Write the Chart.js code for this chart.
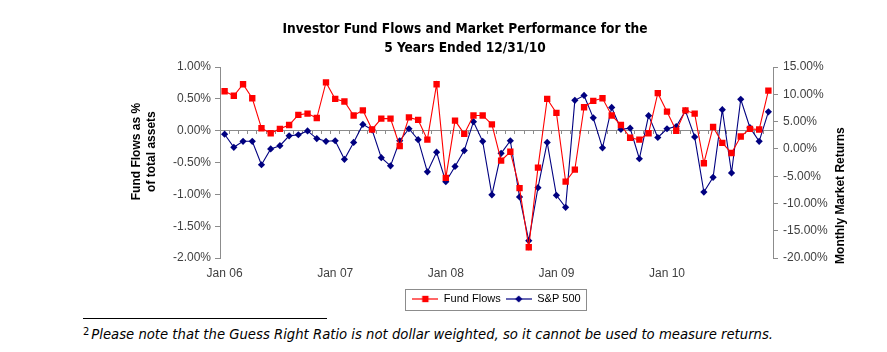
<!DOCTYPE html>
<html>
<head>
<meta charset="utf-8">
<script src="https://cdn.jsdelivr.net/npm/chart.js@4.4.1/dist/chart.umd.min.js"></script>
<style>
  body { margin: 0; background: #fff; }
  #wrap { position: relative; width: 887px; height: 352px; }
  #box { position: absolute; left: 0; top: 0; width: 887px; height: 318px; }
  #rule { position: absolute; left: 83px; top: 318px; width: 244px; border-top: 1px solid #000; }
  #note { position: absolute; left: 83px; top: 325px; font: italic 14.7px "DejaVu Sans Condensed", sans-serif; white-space: nowrap; color: #000; }
  #note sup { font-style: normal; font-size: 11px; vertical-align: 4px; margin-right: 2px; }
</style>
</head>
<body>
<div id="wrap">
  <div id="box"><canvas id="grafica"></canvas></div>
  <div id="rule"></div>
  <div id="note"><sup>2</sup>Please note that the Guess Right Ratio is not dollar weighted, so it cannot be used to measure returns.</div>
</div>
<script>
// Categorías: meses de ene-06 a dic-10
const years = ['06', '07', '08', '09', '10'];
const monthNames = ['Jan', 'Feb', 'Mar', 'Apr', 'May', 'Jun', 'Jul', 'Aug', 'Sep', 'Oct', 'Nov', 'Dec'];
const categories = years.flatMap(y => monthNames.map(m => m + ' ' + y));

// Flujos de fondos, % de activos totales (eje izquierdo)
const fundFlows = [
  0.62, 0.55, 0.73, 0.51, 0.04, -0.04, 0.03, 0.09, 0.25, 0.27, 0.20, 0.76,
  0.50, 0.46, 0.24, 0.32, 0.02, 0.19, 0.19, -0.24, 0.21, 0.17, -0.14, 0.73,
  -0.74, 0.16, -0.05, 0.24, 0.24, 0.10, -0.47, -0.33, -0.90, -1.83, -0.58, 0.50,
  0.28, -0.80, -0.61, 0.37, 0.47, 0.51, 0.24, 0.09, -0.11, -0.14, -0.04, 0.59,
  0.30, 0.00, 0.32, 0.27, -0.51, 0.06, -0.19, -0.35, -0.09, 0.03, 0.02, 0.63
];

// Rendimiento mensual S&P 500, % (eje derecho)
const sp500 = [
  2.7, 0.3, 1.4, 1.4, -2.9, 0.0, 0.6, 2.4, 2.6, 3.3, 1.9, 1.4,
  1.5, -1.9, 1.2, 4.5, 3.5, -1.6, -3.1, 1.5, 3.7, 1.7, -4.2, -0.6,
  -6.0, -3.2, -0.3, 5.0, 1.4, -8.4, -0.8, 1.5, -8.8, -16.8, -7.1, 1.2,
  -8.5, -10.7, 8.9, 9.8, 5.7, 0.2, 7.6, 3.6, 3.8, -1.8, 6.1, 2.1,
  3.7, 4.1, 7.0, 2.2, -7.9, -5.2, 7.2, -4.4, 9.1, 3.9, 1.4, 6.8
];

// Marcas de los ejes
const leftTicks = [-2.0, -1.5, -1.0, -0.5, 0.0, 0.5, 1.0];
const rightTicks = [-20, -15, -10, -5, 0, 5, 10, 15];

const tickFont = { family: 'Liberation Sans', size: 12 };
const tickColor = '#404040';
const axisColor = '#8c8c8c';

// Símbolo de leyenda: línea con el marcador encima
function legendMark(color, style, radius) {
  const c = document.createElement('canvas');
  c.width = 26;
  c.height = 10;
  const g = c.getContext('2d');
  g.strokeStyle = color;
  g.lineWidth = 1.2;
  g.beginPath();
  g.moveTo(0, 5);
  g.lineTo(26, 5);
  g.stroke();
  g.fillStyle = color;
  Chart.helpers.drawPoint(g, { pointStyle: style, radius: radius, borderWidth: 0 }, 13, 5);
  return c;
}
const marks = [legendMark('#ff0000', 'rect', 4.5), legendMark('#000080', 'rectRot', 3.6)];

// Marco de la leyenda
const legendFrame = {
  id: 'legendFrame',
  afterDraw(chart) {
    const boxes = chart.legend.legendHitBoxes;
    if (!boxes || !boxes.length) return;
    const a = boxes[0], b = boxes[boxes.length - 1];
    const x1 = Math.round(a.left - 7) + 0.5;
    const x2 = Math.round(b.left + b.width + 5) + 0.5;
    const y1 = Math.round(a.top - 5) + 0.5;
    const y2 = Math.round(a.top + a.height + 5) + 0.5;
    const ctx = chart.ctx;
    ctx.save();
    ctx.strokeStyle = '#8c8c8c';
    ctx.lineWidth = 1;
    ctx.strokeRect(x1, y1, x2 - x1, y2 - y1);
    ctx.restore();
  }
};

// Títulos de los ejes verticales, leídos de abajo hacia arriba
function verticalText(ctx, lines, x, y) {
  ctx.save();
  ctx.translate(x, y);
  ctx.rotate(-Math.PI / 2);
  ctx.font = 'bold 12px "Liberation Sans"';
  ctx.fillStyle = '#000';
  ctx.textAlign = 'center';
  ctx.textBaseline = 'middle';
  lines.forEach((t, i) => ctx.fillText(t, 0, i * 15));
  ctx.restore();
}
const axisTitles = {
  id: 'axisTitles',
  afterDraw(chart) {
    const l = chart.scales.y, r = chart.scales.y1;
    verticalText(chart.ctx, ['Fund Flows as %', 'of total assets'], l.right - 83, (l.top + l.bottom) / 2 - 11);
    verticalText(chart.ctx, ['Monthly Market Returns'], r.right - 46, (r.top + r.bottom) / 2 + 33);
  }
};

new Chart(document.querySelector('#grafica'), {
  type: 'line',
  data: {
    labels: categories,
    datasets: [
      {
        label: 'Fund Flows',
        data: fundFlows,
        yAxisID: 'y',
        borderColor: '#ff0000',
        backgroundColor: '#ff0000',
        borderWidth: 1.1,
        pointStyle: 'rect',
        pointRadius: 4.5,
        pointBorderWidth: 0,
        tension: 0
      },
      {
        label: 'S&P 500',
        data: sp500,
        yAxisID: 'y1',
        borderColor: '#000080',
        backgroundColor: '#000080',
        borderWidth: 1.1,
        pointStyle: 'rectRot',
        pointRadius: 3.6,
        pointBorderWidth: 0,
        tension: 0
      }
    ]
  },
  options: {
    responsive: true,
    maintainAspectRatio: false,
    animation: false,
    layout: { padding: { left: 43, right: 0, top: 0, bottom: 3.5 } },
    plugins: {
      title: {
        display: true,
        text: ['Investor Fund Flows and Market Performance for the', '5 Years Ended 12/31/10'],
        color: '#000',
        font: { family: 'DejaVu Sans Condensed', weight: 'bold', size: 13.6, lineHeight: 1.4 },
        padding: { top: 19.5, bottom: 9.5 }
      },
      legend: {
        position: 'bottom',
        fullSize: false,
        labels: {
          usePointStyle: true,
          pointStyleWidth: 26,
          color: '#000',
          font: { family: 'Liberation Sans', size: 11 },
          padding: 5,
          generateLabels: chart => Chart.defaults.plugins.legend.labels.generateLabels(chart)
            .map((l, i) => Object.assign(l, { pointStyle: marks[i] }))
        }
      },
      tooltip: { enabled: false }
    },
    scales: {
      x: {
        type: 'category',
        position: { y: 0 },
        offset: true,
        grid: { drawOnChartArea: false, offset: true, tickLength: 3, color: axisColor },
        border: { color: axisColor },
        ticks: { display: false }
      },
      x2: {
        type: 'category',
        position: 'bottom',
        offset: true,
        grid: { display: false, drawTicks: false },
        border: { display: false },
        ticks: {
          autoSkip: false,
          maxRotation: 0,
          padding: 8,
          font: tickFont,
          color: tickColor,
          callback: function (v) {
            const l = this.getLabelForValue(v);
            return l.startsWith('Jan') ? l : '';
          }
        }
      },
      y: {
        position: 'left',
        min: leftTicks[0],
        max: leftTicks[leftTicks.length - 1],
        ticks: {
          stepSize: 0.5,
          padding: 4,
          font: tickFont,
          color: tickColor,
          callback: v => v.toFixed(2) + '%'
        },
        grid: { drawOnChartArea: false, tickLength: 5, color: axisColor },
        border: { color: axisColor },
        afterFit: s => { s.width = 177; }
      },
      y1: {
        position: 'right',
        min: rightTicks[0],
        max: rightTicks[rightTicks.length - 1],
        ticks: {
          stepSize: 5,
          padding: 5,
          font: tickFont,
          color: tickColor,
          callback: v => v.toFixed(2) + '%'
        },
        grid: { drawOnChartArea: false, tickLength: 5, color: axisColor },
        border: { color: axisColor },
        afterFit: s => { s.width = 114; }
      }
    }
  },
  plugins: [legendFrame, axisTitles]
});
</script>
</body>
</html>
